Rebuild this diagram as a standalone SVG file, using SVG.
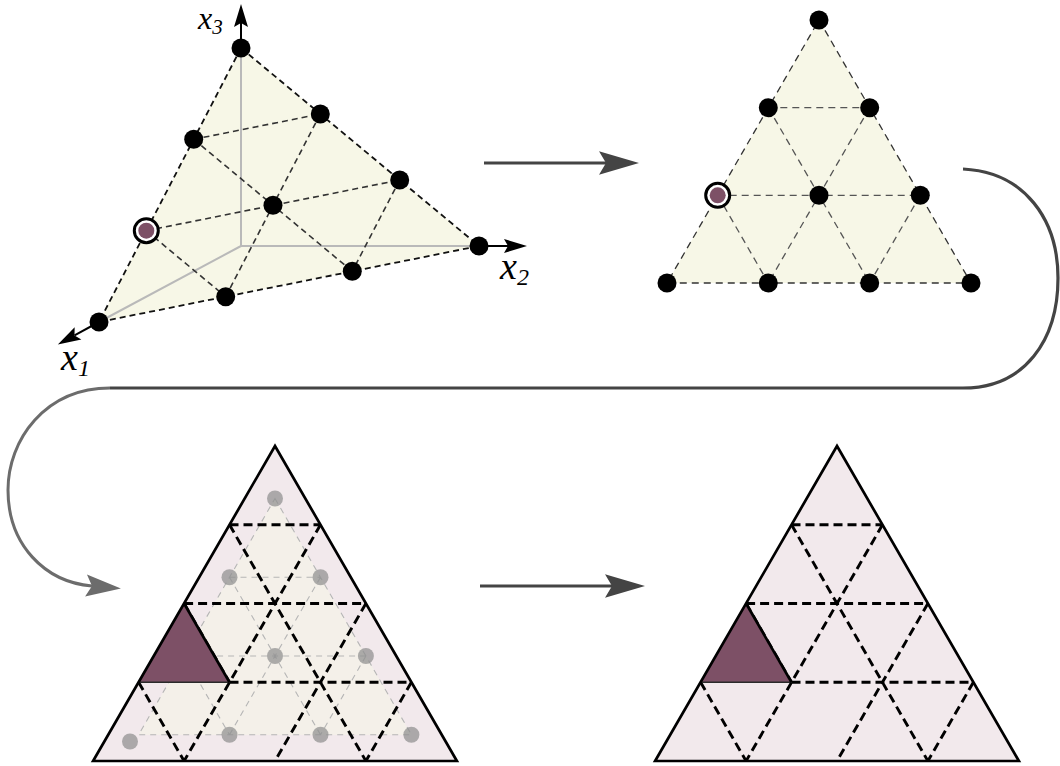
<svg xmlns="http://www.w3.org/2000/svg" width="1060" height="766" viewBox="0 0 1060 766">
<style>
.bg{fill:#ffffff}
.simplex{fill:#f7f7e7;stroke:none}
.axisg{stroke:#b9b9b9;stroke-width:2;fill:none}
.axis{stroke:#000;stroke-width:2;fill:none}
.dk{stroke:#111;stroke-width:1.8;stroke-dasharray:6 4;fill:none}
.dk2{stroke:#333;stroke-width:1.6;stroke-dasharray:6 4;fill:none}
.tr{stroke:#555;stroke-width:1.3;stroke-dasharray:7 5;fill:none}
.tre{stroke:#333;stroke-width:1.3;stroke-dasharray:7 5;fill:none}
.node{fill:#000}
.pink{fill:#f2e9ec;stroke:none}
.beige{fill:#f4f0e9;stroke:none}
.glat{stroke:#b5b5b5;stroke-width:1.1;stroke-dasharray:6 5;fill:none}
.gdot{fill:#8f8f8f;opacity:0.72}
.bd{stroke:#000;stroke-width:2.9;stroke-dasharray:9 5;fill:none}
.edge{stroke:#000;stroke-width:2.7;fill:none;stroke-linejoin:miter}
.purple{fill:#7d5066}
.conn{stroke:#444;stroke-width:3.2;fill:none}
.conn2{stroke:#6c6c6c;stroke-width:3;fill:none}
.lbl{font-family:"Liberation Serif","Times New Roman",serif;font-style:italic;fill:#000}
</style>
<defs>
<marker id="ah" markerUnits="userSpaceOnUse" viewBox="-9 -13 44 26" markerWidth="44" markerHeight="26" refX="0" refY="0" orient="auto" overflow="visible">
<path d="M33,0 L-7,-11.7 L0,0 L-7,11.7 Z" fill="#444"/>
</marker>
<marker id="ah2" markerUnits="userSpaceOnUse" viewBox="-9 -13 44 26" markerWidth="44" markerHeight="26" refX="0" refY="0" orient="auto" overflow="visible">
<path d="M29,0 L-6,-11 L0,0 L-6,11 Z" fill="#6c6c6c"/>
</marker>
<marker id="ax" markerUnits="userSpaceOnUse" viewBox="-6 -8 28 16" markerWidth="28" markerHeight="16" refX="0" refY="0" orient="auto" overflow="visible">
<path d="M19,0 L-4,-7 L0,0 L-4,7 Z" fill="#000"/>
</marker>
</defs>
<rect class="bg" x="0" y="0" width="1060" height="766"/>

<g id="simplex3d">
<polygon class="simplex" points="241,48 479,246 99,322"/>
<path class="axisg" d="M241,246 L241,48 M241,246 L479,246 M241,246 L99,322"/>
<path class="axis" d="M241,48 L241,23" marker-end="url(#ax)"/>
<path class="axis" d="M479,246 L508,246" marker-end="url(#ax)"/>
<path class="axis" d="M99,322 L74.5,335.4" marker-end="url(#ax)"/>
<path class="dk" d="M241,48 L479,246 L99,322 Z"/>
<path class="dk2" d="M193.7,139.3 L320.3,114 M146.3,230.7 L399.7,180 M193.7,139.3 L352.3,271.3 M146.3,230.7 L225.7,296.7 M320.3,114 L225.7,296.7 M399.7,180 L352.3,271.3"/>
<circle class="node" cx="241" cy="48" r="9.5"/>
<circle class="node" cx="320.3" cy="114" r="9.5"/>
<circle class="node" cx="399.7" cy="180" r="9.5"/>
<circle class="node" cx="479" cy="246" r="9.5"/>
<circle class="node" cx="193.7" cy="139.3" r="9.5"/>
<circle class="node" cx="273" cy="205.3" r="9.5"/>
<circle class="node" cx="352.3" cy="271.3" r="9.5"/>
<circle class="node" cx="225.7" cy="296.7" r="9.5"/>
<circle class="node" cx="99" cy="322" r="9.5"/>
<circle cx="146.3" cy="230.7" r="12" fill="#fff" stroke="#000" stroke-width="3"/>
<circle class="purple" cx="146.3" cy="230.7" r="8"/>
<text class="lbl" x="198" y="29" font-size="32">x<tspan font-size="21" dy="5">3</tspan></text>
<text class="lbl" x="500" y="279" font-size="38">x<tspan font-size="24" dy="6">2</tspan></text>
<text class="lbl" x="61" y="370" font-size="38">x<tspan font-size="24" dy="6">1</tspan></text>
</g>

<g id="simplex2d">
<polygon class="simplex" points="819,20 971,283 667,283"/>
<path class="tre" d="M819,20 L971,283 L667,283 Z"/>
<path class="tr" d="M768.3,107.7 L869.7,107.7 M717.7,195.3 L920.3,195.3 M869.7,107.7 L768.3,283 M920.3,195.3 L869.7,283 M768.3,107.7 L869.7,283 M717.7,195.3 L768.3,283"/>
<circle class="node" cx="819" cy="20" r="9.5"/>
<circle class="node" cx="768.3" cy="107.7" r="9.5"/>
<circle class="node" cx="869.7" cy="107.7" r="9.5"/>
<circle class="node" cx="819" cy="195.3" r="9.5"/>
<circle class="node" cx="920.3" cy="195.3" r="9.5"/>
<circle class="node" cx="667" cy="283" r="9.5"/>
<circle class="node" cx="768.3" cy="283" r="9.5"/>
<circle class="node" cx="869.7" cy="283" r="9.5"/>
<circle class="node" cx="971" cy="283" r="9.5"/>
<circle cx="717.7" cy="195.3" r="12" fill="#fff" stroke="#000" stroke-width="3"/>
<circle class="purple" cx="717.7" cy="195.3" r="8"/>
</g>

<g id="mesh-with-lattice">
<polygon class="pink" points="275,446 456.9,761 93.1,761"/>
<polygon class="beige" points="275,498.5 411.4,734.75 138.6,734.75"/>
<path class="glat" d="M275,498.5 L411.4,734.75 L138.6,734.75 Z M229.5,577.25 L320.5,577.25 M184.1,656 L365.9,656 M320.5,577.25 L229.5,734.75 M365.9,656 L320.5,734.75 M229.5,577.25 L320.5,734.75 M184.1,656 L229.5,734.75"/>
<circle class="gdot" cx="275" cy="498.5" r="8"/>
<circle class="gdot" cx="229.5" cy="577.25" r="8"/>
<circle class="gdot" cx="320.5" cy="577.25" r="8"/>
<circle class="gdot" cx="275" cy="656" r="8"/>
<circle class="gdot" cx="365.9" cy="656" r="8"/>
<circle class="gdot" cx="229.5" cy="734.75" r="8"/>
<circle class="gdot" cx="320.5" cy="734.75" r="8"/>
<circle class="gdot" cx="411.4" cy="734.75" r="8"/>
<circle class="gdot" cx="130" cy="741.5" r="8"/>
<path class="bd" d="M229.5,524.75 L320.5,524.75 M184.1,603.5 L365.9,603.5 M229.5,682.25 L411.4,682.25 M320.5,524.75 L184.1,761 M365.9,603.5 L275,761 M411.4,682.25 L365.9,761 M229.5,524.75 L365.9,761 M184.1,603.5 L229.5,682.25 M138.6,682.25 L184.1,761"/>
<polygon class="purple" points="184.1,603.5 229.5,682.25 138.6,682.25"/>
<path d="M138.6,682.25 L229.5,682.25" stroke="#2a2a2a" stroke-width="1.6" fill="none"/>
<path class="edge" d="M184.1,603.5 L229.5,682.25"/>
<path class="edge" d="M275,446 L456.9,761 L93.1,761 Z"/>
</g>

<g id="mesh">
<polygon class="pink" points="837,446 1018.9,761 655.1,761"/>
<path class="bd" d="M791.5,524.75 L882.5,524.75 M746.1,603.5 L927.9,603.5 M791.5,682.25 L973.4,682.25 M882.5,524.75 L746.1,761 M927.9,603.5 L837,761 M973.4,682.25 L927.9,761 M791.5,524.75 L927.9,761 M746.1,603.5 L791.5,682.25 M700.6,682.25 L746.1,761"/>
<polygon class="purple" points="746.1,603.5 791.5,682.25 700.6,682.25"/>
<path d="M700.6,682.25 L791.5,682.25" stroke="#2a2a2a" stroke-width="1.6" fill="none"/>
<path class="edge" d="M746.1,603.5 L791.5,682.25"/>
<path class="edge" d="M837,446 L1018.9,761 L655.1,761 Z"/>
</g>

<g id="connectors">
<path class="conn" d="M484,163 L606,163" marker-end="url(#ah)"/>
<path class="conn" d="M963,169 C1025,172 1058,220 1058,278 C1058,340 1025,388 963,388 L110,388"/>
<path class="conn2" d="M110,388 C45,388 8,440 8,490 C8,545 45,582 92,586" marker-end="url(#ah2)"/>
<path class="conn" d="M480,586 L612,586" marker-end="url(#ah)"/>
</g>
</svg>
